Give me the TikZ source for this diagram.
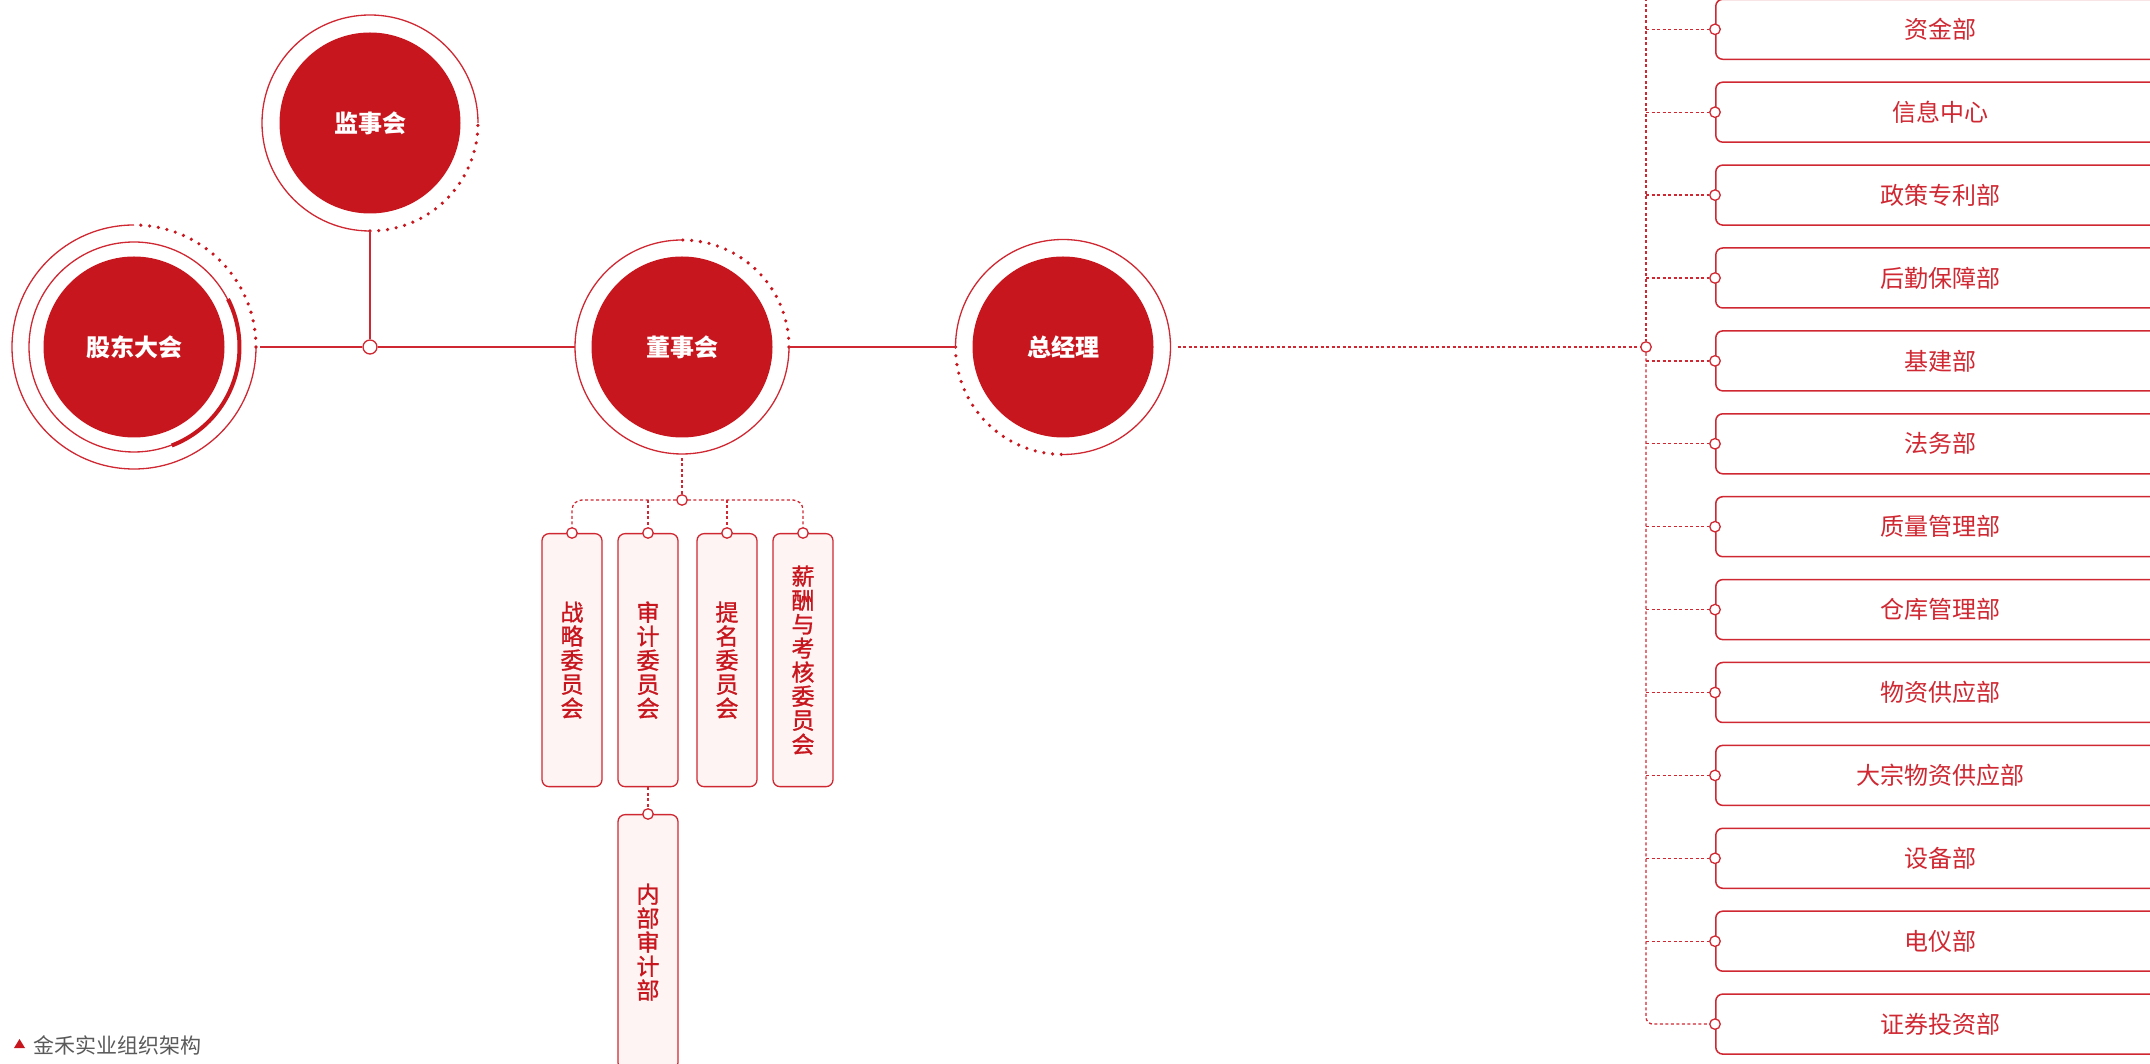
\documentclass[tikz,border=0pt]{standalone}
\usepackage{fontspec}
\newfontfamily\cjk{Noto Sans CJK SC}
\newfontfamily\cjkm{Noto Sans CJK SC}[FakeBold=1.2]
\usetikzlibrary{calc}
\definecolor{jred}{RGB}{200,22,30}
\definecolor{jline}{RGB}{208,40,50}
\definecolor{jpink}{RGB}{253,244,243}
\definecolor{jgray}{RGB}{90,90,90}
\begin{document}
\begin{tikzpicture}[x=1pt,y=1pt,
 bigc/.style={circle,fill=jred,minimum size=181pt,inner sep=0pt,text=white,font=\cjk\bfseries\fontsize{24}{24}\selectfont},
 ringnode/.style={circle,inner sep=0pt,outer sep=0pt,draw=none},
 ring/.style={draw=jline,line width=1.3pt},
 dots/.style={draw=jred,line width=3.6pt,line cap=round,dash pattern=on 0pt off 8.8pt},
 conn/.style={draw=jline,line width=1.3pt},
 dconn/.style={draw=jline,line width=1.3pt,dash pattern=on 3pt off 2.5pt},
 jdot/.style={circle,draw=jline,fill=white,line width=1.3pt,inner sep=0pt,minimum size=10.5pt},
 cbox/.style={draw=jline,fill=jpink,rounded corners=7pt,line width=1.3pt,minimum width=60pt,minimum height=253pt,inner sep=0pt,text=jred,font=\cjkm\fontsize{23}{24}\selectfont,align=center,anchor=north},
 rbox/.style={draw=jline,fill=white,rounded corners=7pt,line width=1.5pt,minimum width=450pt,minimum height=60pt,inner sep=0pt,text=jline,font=\cjk\fontsize{24}{24}\selectfont,anchor=west}
]
\useasboundingbox (0,0) rectangle (2150,1063);
\clip (0,0) rectangle (2150,1063);

% 股东大会
\node[bigc] (G) at (134,716) {股东大会};
\node[ringnode,minimum size=244pt] (Go) at (G) {};
\draw[ring] (G.center) circle[radius=105pt];
\draw[ring] (Go.north) arc[start angle=90,end angle=360,radius=122pt];
\draw[dots] (Go.east) arc[start angle=0,end angle=90,radius=122pt];
\draw[jred,line width=4pt] ($(G.center)+(27:105.5)$) arc[start angle=27,end angle=-69,radius=105.5pt];

% 监事会
\node[bigc] (J) at (370,940) {监事会};
\node[ringnode,minimum size=216pt] (Jr) at (J) {};
\draw[ring] (Jr.east) arc[start angle=0,end angle=270,radius=108pt];
\draw[dots] (Jr.south) arc[start angle=270,end angle=360,radius=108pt];

% 董事会
\node[bigc] (D) at (682,716) {董事会};
\node[ringnode,minimum size=214pt] (Dr) at (D) {};
\draw[ring] (Dr.north) arc[start angle=90,end angle=360,radius=107pt];
\draw[dots] (Dr.east) arc[start angle=0,end angle=90,radius=107pt];

% 总经理
\node[bigc] (Z) at (1063,716) {总经理};
\node[ringnode,minimum size=215pt] (Zr) at (Z) {};
\draw[ring] (Zr.south) arc[start angle=-90,end angle=180,radius=107.5pt];
\draw[dots] (Zr.west) arc[start angle=180,end angle=270,radius=107.5pt];

% junction and solid connectors
\node[jdot,minimum size=14pt] (j1) at (370,716) {};
\draw[conn] ([xshift=4pt]Go.east) -- (j1);
\draw[conn] (j1) -- (Dr.west);
\draw[conn] (j1) -- (Jr.south);
\draw[conn] (Dr.east) -- (Zr.west);

% committees
\node[cbox] (c1) at (572,530) {战\\略\\委\\员\\会};
\node[cbox] (c2) at (648,530) {审\\计\\委\\员\\会};
\node[cbox] (c3) at (727,530) {提\\名\\委\\员\\会};
\node[cbox] (c4) at (803,530) {薪\\酬\\与\\考\\核\\委\\员\\会};
\node[cbox,minimum height=255pt] (c5) at (648,249) {内\\部\\审\\计\\部};
\node[jdot] (cb1) at (c1.north) {};
\node[jdot] (cb2) at (c2.north) {};
\node[jdot] (cb3) at (c3.north) {};
\node[jdot] (cb4) at (c4.north) {};
\node[jdot] (cb5) at (c5.north) {};
\node[jdot] (jd) at (682,563) {};
\draw[dconn] ([yshift=-4pt]Dr.south) -- (jd);
\draw[dconn,rounded corners=10pt] (jd) -| (cb1);
\draw[dconn,rounded corners=10pt] (jd) -| (cb4);
\draw[dconn] (cb2 |- jd) -- (cb2);
\draw[dconn] (cb3 |- jd) -- (cb3);
\draw[dconn] (c2.south) -- (cb5);

% departments
\node[jdot] (jR) at (1646,716) {};
\draw[dconn] ([xshift=7pt]Zr.east) -- (jR);
\coordinate (topR) at (1646,1070);
\draw[dconn] (topR) -- (jR);
\foreach \t [count=\k from 0] in {资金部,信息中心,政策专利部,后勤保障部,基建部,法务部,质量管理部,仓库管理部,物资供应部,大宗物资供应部,设备部,电仪部,证券投资部}{
  \node[rbox] (rb\k) at (1715,{1033.7-82.9*\k}) {\t};
  \node[jdot] (rc\k) at (rb\k.west) {};
}
\foreach \k in {0,...,11}{
  \draw[dconn] (jR |- rc\k) -- (rc\k);
}
\draw[dconn,rounded corners=7pt] (jR) |- (rc12);

% caption
\fill[jred] (14,15) -- (25,15) -- (19.5,24) -- cycle;
\node[anchor=west,text=jgray,font=\cjk\fontsize{21}{21}\selectfont,inner sep=0pt] (cap) at (33,18) {金禾实业组织架构};
\end{tikzpicture}
\end{document}
